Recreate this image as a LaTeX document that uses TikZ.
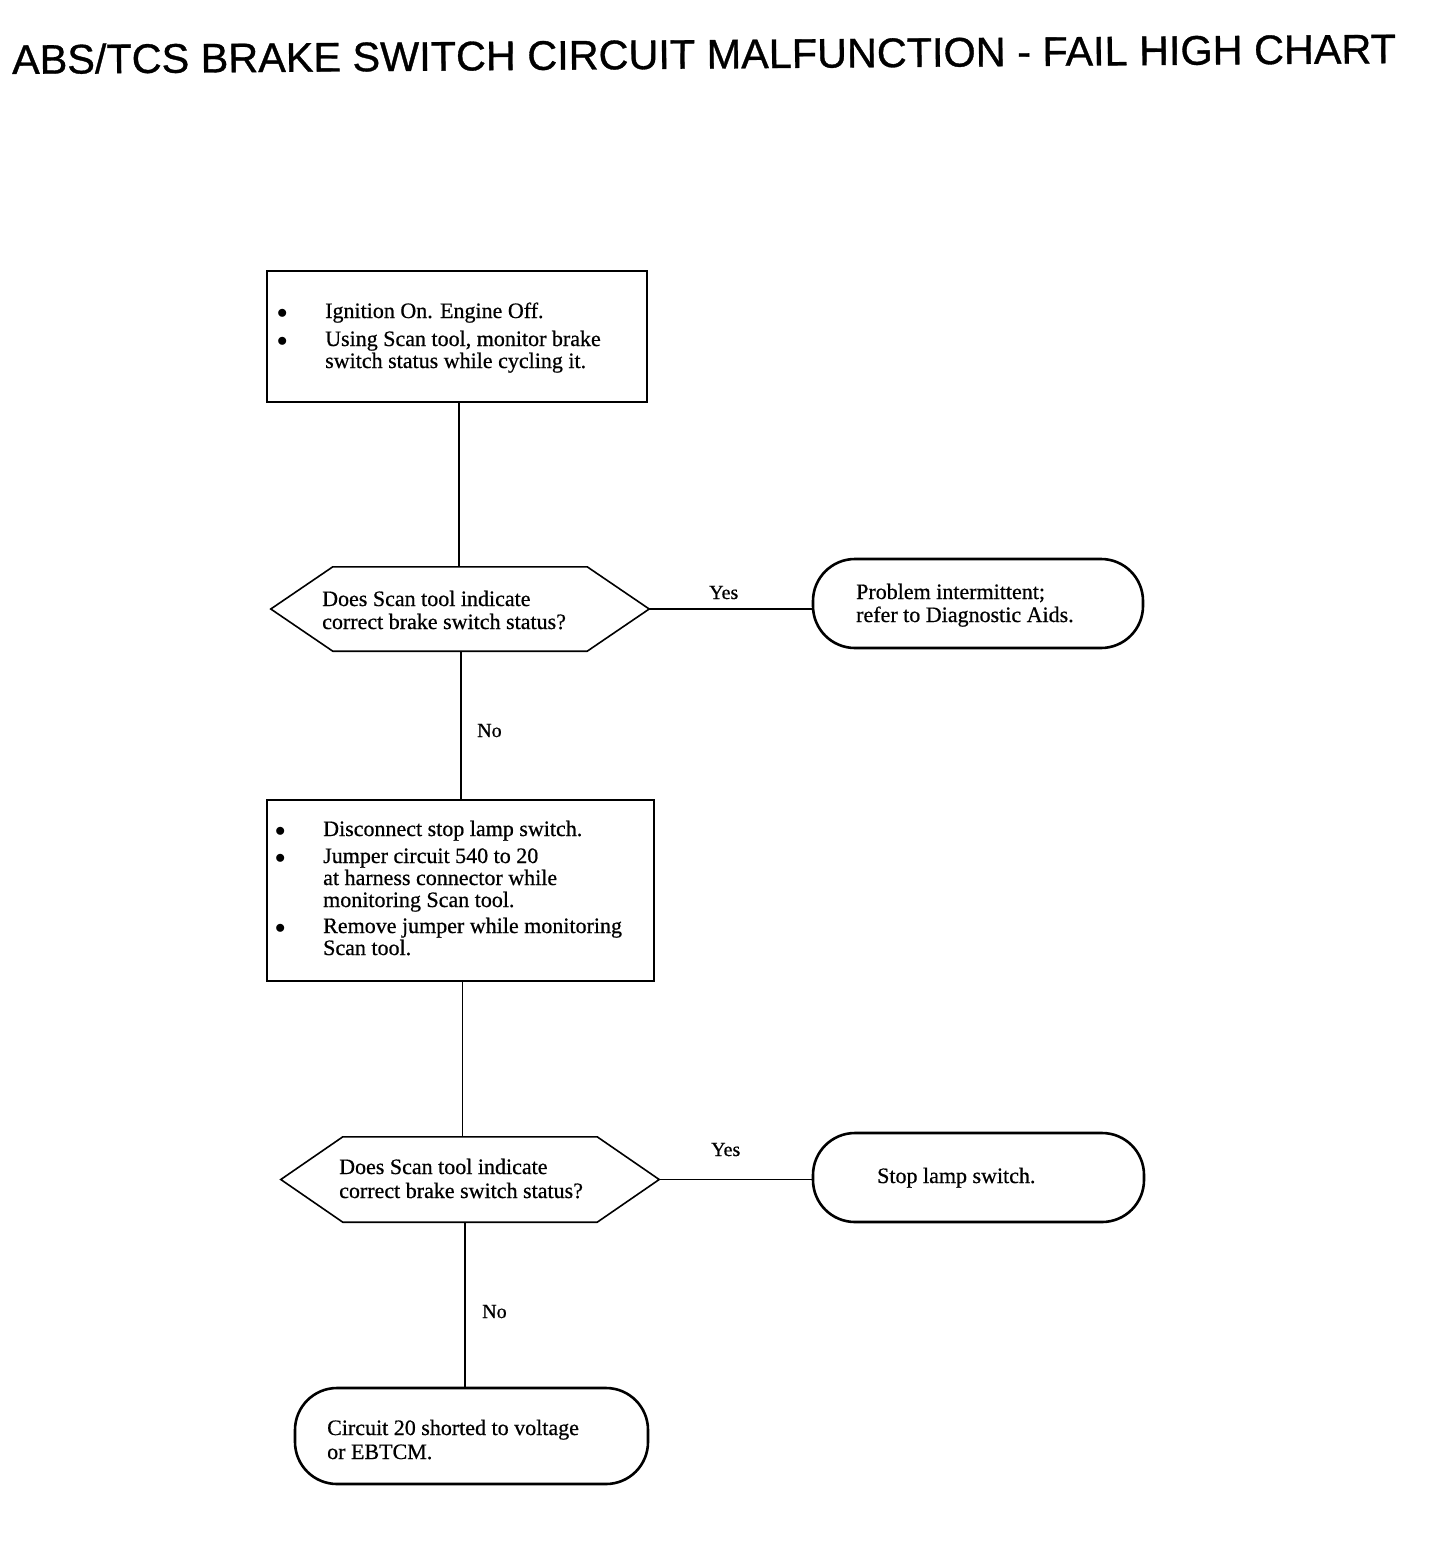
\documentclass[tikz,border=0pt]{standalone}
\usepackage{fontspec}
\setmainfont{Liberation Serif}[BoldFont={Liberation Serif},BoldFeatures={FakeBold=0.6}]
\newfontfamily\titlefont{Liberation Sans}[FakeBold=0.8]
\begin{document}
\begin{tikzpicture}[x=1pt,y=-1pt,
  termstyle/.style={draw, line width=2.6pt, rounded corners=42pt, inner sep=0pt},
  boxstyle/.style={draw, line width=1.6pt, inner sep=0pt},
  conn/.style={line width=1.5pt},
  txt/.style={anchor=base west, inner sep=0pt, font=\bfseries\fontsize{22}{24}\selectfont},
  lbl/.style={anchor=base west, inner sep=0pt, font=\bfseries\fontsize{20}{22}\selectfont}
]
\useasboundingbox[fill=white] (0,0) rectangle (1456,1550);

% title
\node[anchor=base west, inner sep=0pt, rotate=0.45, font=\titlefont\fontsize{41.4}{45}\selectfont] (title) at (12,74) {ABS/TCS BRAKE SWITCH CIRCUIT MALFUNCTION - FAIL HIGH CHART};

% box 1
\node[boxstyle, minimum width=380pt, minimum height=131pt] (b1) at (457,336.5) {};
\node[txt] (b1a) at (277,318) {$\bullet$};
\node[txt] (b1b) at (325,318) {Ignition On. Engine Off.};
\node[txt] (b1c) at (277,346) {$\bullet$};
\node[txt] (b1d) at (325,346) {Using Scan tool, monitor brake};
\node[txt] (b1e) at (325,368) {switch status while cycling it.};

% decision 1
\node[inner sep=0pt, minimum width=378pt, minimum height=84pt] (d1) at (460,609) {};
\draw[line width=1.6pt] (d1.west) -- ([xshift=62pt]d1.north west) -- ([xshift=-62pt]d1.north east) -- (d1.east) -- ([xshift=-62pt]d1.south east) -- ([xshift=62pt]d1.south west) -- cycle;
\node[txt] (d1a) at (322,606) {Does Scan tool indicate};
\node[txt] (d1b) at (322,629) {correct brake switch status?};

% terminal 1
\node[termstyle, minimum width=330pt, minimum height=89pt] (t1) at (978,603.5) {};
\node[txt] (t1a) at (856,599) {Problem intermittent;};
\node[txt] (t1b) at (856,622) {refer to Diagnostic Aids.};

% box 2
\node[boxstyle, minimum width=387pt, minimum height=181pt] (b2) at (460.5,890.5) {};
\node[txt] (b2a) at (275,836) {$\bullet$};
\node[txt] (b2b) at (323,836) {Disconnect stop lamp switch.};
\node[txt] (b2c) at (275,863) {$\bullet$};
\node[txt] (b2d) at (323,863) {Jumper circuit 540 to 20};
\node[txt] (b2e) at (323,885) {at harness connector while};
\node[txt] (b2f) at (323,907) {monitoring Scan tool.};
\node[txt] (b2g) at (275,933) {$\bullet$};
\node[txt] (b2h) at (323,933) {Remove jumper while monitoring};
\node[txt] (b2i) at (323,955) {Scan tool.};

% decision 2
\node[inner sep=0pt, minimum width=378pt, minimum height=85pt] (d2) at (470,1179.5) {};
\draw[line width=1.6pt] (d2.west) -- ([xshift=62pt]d2.north west) -- ([xshift=-62pt]d2.north east) -- (d2.east) -- ([xshift=-62pt]d2.south east) -- ([xshift=62pt]d2.south west) -- cycle;
\node[txt] (d2a) at (339,1174) {Does Scan tool indicate};
\node[txt] (d2b) at (339,1198) {correct brake switch status?};

% terminal 2
\node[termstyle, minimum width=331pt, minimum height=89pt] (t2) at (978.5,1177.5) {};
\node[txt] (t2a) at (877,1183) {Stop lamp switch.};

% terminal 3
\node[termstyle, minimum width=353pt, minimum height=96pt] (t3) at (471.5,1436) {};
\node[txt] (t3a) at (327,1435) {Circuit 20 shorted to voltage};
\node[txt] (t3b) at (327,1459) {or EBTCM.};

% connectors
\draw[conn] ([xshift=2pt]b1.south) -- ([xshift=2pt]b1.south |- d1.north);
\draw[conn] (d1.east) -- (d1.east -| t1.west);
\draw[conn] ([xshift=1pt]d1.south) -- ([xshift=1pt]d1.south |- b2.north);
\draw[conn] ([xshift=2pt]b2.south) -- ([xshift=2pt]b2.south |- d2.north);
\draw[conn] (d2.east) -- (d2.east -| t2.west);
\draw[conn] ([xshift=-5pt]d2.south) -- ([xshift=-5pt]d2.south |- t3.north);

% labels
\node[lbl] (y1) at (709,599) {Yes};
\node[lbl] (n1) at (477,737) {No};
\node[lbl] (y2) at (711,1156) {Yes};
\node[lbl] (n2) at (482,1318) {No};
\end{tikzpicture}
\end{document}
